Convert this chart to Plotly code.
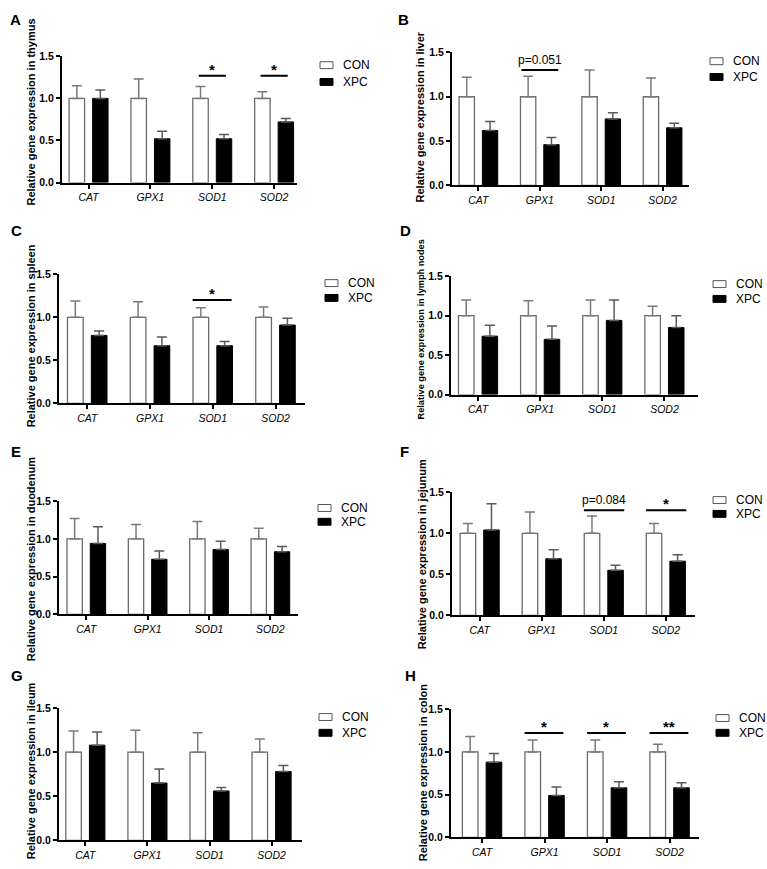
import plotly.graph_objects as go

W, H = 767, 869

# ---------------- data ----------------
genes = ["CAT", "GPX1", "SOD1", "SOD2"]
gene_labels = ["<i>CAT</i>", "<i>GPX1</i>", "<i>SOD1</i>", "<i>SOD2</i>"]
groups = ["CON", "XPC"]
tissues = ["thymus", "liver", "spleen", "lymph nodes", "duodenum", "jejunum", "ileum", "colon"]
panel_letters = ["A", "B", "C", "D", "E", "F", "G", "H"]
y_ticks = [0.0, 0.5, 1.0, 1.5]
y_ticklabels = ["0.0", "0.5", "1.0", "1.5"]

con_mean = [1.00, 1.00, 1.00, 1.00]

thymus_con_sem = [0.15, 0.23, 0.14, 0.08]
thymus_xpc_mean = [1.00, 0.52, 0.52, 0.72]
thymus_xpc_sem = [0.10, 0.09, 0.05, 0.04]
thymus_sig = [("SOD1", "*", 1.27), ("SOD2", "*", 1.27)]

liver_con_sem = [0.22, 0.23, 0.30, 0.21]
liver_xpc_mean = [0.62, 0.46, 0.75, 0.65]
liver_xpc_sem = [0.10, 0.08, 0.07, 0.05]
liver_sig = [("GPX1", "p=0.051", 1.30)]

spleen_con_sem = [0.19, 0.18, 0.11, 0.12]
spleen_xpc_mean = [0.79, 0.67, 0.67, 0.91]
spleen_xpc_sem = [0.05, 0.10, 0.05, 0.08]
spleen_sig = [("SOD1", "*", 1.20)]

lymph_con_sem = [0.20, 0.19, 0.20, 0.12]
lymph_xpc_mean = [0.74, 0.70, 0.94, 0.85]
lymph_xpc_sem = [0.14, 0.17, 0.26, 0.15]
lymph_sig = []

duodenum_con_sem = [0.27, 0.19, 0.23, 0.14]
duodenum_xpc_mean = [0.94, 0.73, 0.86, 0.83]
duodenum_xpc_sem = [0.22, 0.11, 0.11, 0.07]
duodenum_sig = []

jejunum_con_sem = [0.12, 0.26, 0.21, 0.12]
jejunum_xpc_mean = [1.04, 0.69, 0.55, 0.66]
jejunum_xpc_sem = [0.32, 0.11, 0.06, 0.08]
jejunum_sig = [("SOD1", "p=0.084", 1.28), ("SOD2", "*", 1.28)]

ileum_con_sem = [0.24, 0.25, 0.22, 0.15]
ileum_xpc_mean = [1.08, 0.65, 0.56, 0.78]
ileum_xpc_sem = [0.15, 0.16, 0.04, 0.07]
ileum_sig = []

colon_con_sem = [0.18, 0.14, 0.14, 0.09]
colon_xpc_mean = [0.88, 0.49, 0.58, 0.58]
colon_xpc_sem = [0.10, 0.10, 0.07, 0.06]
colon_sig = [("GPX1", "*", 1.22), ("SOD1", "*", 1.22), ("SOD2", "**", 1.22)]

con_sems = [thymus_con_sem, liver_con_sem, spleen_con_sem, lymph_con_sem,
            duodenum_con_sem, jejunum_con_sem, ileum_con_sem, colon_con_sem]
xpc_means = [thymus_xpc_mean, liver_xpc_mean, spleen_xpc_mean, lymph_xpc_mean,
             duodenum_xpc_mean, jejunum_xpc_mean, ileum_xpc_mean, colon_xpc_mean]
xpc_sems = [thymus_xpc_sem, liver_xpc_sem, spleen_xpc_sem, lymph_xpc_sem,
            duodenum_xpc_sem, jejunum_xpc_sem, ileum_xpc_sem, colon_xpc_sem]
sigs = [thymus_sig, liver_sig, spleen_sig, lymph_sig,
        duodenum_sig, jejunum_sig, ileum_sig, colon_sig]

# ---------------- layout geometry (pixels) ----------------
# (x_left, x_right, y_top, y_bottom)
boxes = [
    (62, 297, 51, 179),
    (452, 689, 47, 182),
    (59, 305, 272, 403),
    (451, 698, 274, 394),
    (59, 298, 502, 617),
    (452, 695, 493, 618),
    (59, 302, 712, 846),
    (451, 699, 713, 843),
]
xranges = [(-0.43, 3.37), (-0.43, 3.43), (-0.45, 3.47), (-0.435, 3.54),
           (-0.445, 3.45), (-0.446, 3.47), (-0.425, 3.49), (-0.497, 3.47)]
# y-axis title: (x center, y center, font size)
ytitles = [(31, 108, 11), (420, 113, 11), (31, 335, 11), (421, 328, 9.2),
           (31, 561, 11), (422, 556, 11), (31, 776, 11), (423, 777, 11)]
letters_pos = [(8, 14), (396, 14), (9, 228), (398, 228),
               (9, 452), (398, 452), (9, 679), (403, 679)]
# legend: (rect left, CON y, XPC y)
legend_pos = [(320, 60, 77), (710, 56, 72), (325, 281, 296), (713, 282, 297),
              (318, 509, 523), (713, 501, 515), (319, 721, 737), (716, 722, 737)]
sig_span = [(-0.22, 0.22), (-0.30, 0.30), (-0.32, 0.30), (0, 0),
            (0, 0), (-0.32, 0.33), (0, 0), (-0.32, 0.30)]


def px(xp):
    return xp / W


def py(yp):
    return 1 - yp / H


FONT = "Liberation Sans, Arial, sans-serif"
fig = go.Figure()
layout = dict(
    width=W, height=H, margin=dict(l=0, r=0, t=0, b=0),
    paper_bgcolor="white", plot_bgcolor="white",
    showlegend=False, barmode="overlay",
    font=dict(family=FONT, color="black"),
)
shapes = []
annotations = []

for i in range(8):
    xa = "x" if i == 0 else f"x{i+1}"
    ya = "y" if i == 0 else f"y{i+1}"
    xl, xr, yt, yb = boxes[i]
    fig.add_trace(go.Bar(
        x=genes, y=con_mean, name=groups[0], width=0.25, offset=-0.315,
        marker=dict(color="white", line=dict(color="#6a6a6a", width=1.3)),
        error_y=dict(type="data", array=con_sems[i], arrayminus=[0, 0, 0, 0],
                     symmetric=False, color="#7a7a7a", thickness=1.5, width=5),
        xaxis=xa, yaxis=ya, showlegend=False))
    fig.add_trace(go.Bar(
        x=genes, y=xpc_means[i], name=groups[1], width=0.25, offset=0.065,
        marker=dict(color="black", line=dict(color="black", width=1.0)),
        error_y=dict(type="data", array=xpc_sems[i], arrayminus=[0, 0, 0, 0],
                     symmetric=False, color="#5a5a5a", thickness=1.5, width=5),
        xaxis=xa, yaxis=ya, showlegend=False))

    kx = "xaxis" if i == 0 else f"xaxis{i+1}"
    ky = "yaxis" if i == 0 else f"yaxis{i+1}"
    layout[kx] = dict(
        domain=[px(xl), px(xr)], anchor=ya, range=list(xranges[i]),
        type="category", tickmode="array", tickvals=genes, ticktext=gene_labels,
        showline=True, linecolor="black", linewidth=2, ticks="outside",
        ticklen=4, tickwidth=2, tickcolor="black", showgrid=False, zeroline=False,
        tickfont=dict(family=FONT, size=10.5, color="black"), fixedrange=True)
    layout[ky] = dict(
        domain=[py(yb), py(yt)], anchor=xa, range=[0, 1.5],
        tickmode="array", tickvals=y_ticks, ticktext=y_ticklabels,
        showline=True, linecolor="black", linewidth=2, ticks="outside",
        ticklen=4, tickwidth=2, tickcolor="black", showgrid=False, zeroline=False,
        tickfont=dict(family=FONT, size=10.5, color="black", weight="bold"),
        fixedrange=True)

    # y axis title
    tx, tyc, tfs = ytitles[i]
    annotations.append(dict(
        x=px(tx), y=py(tyc), xref="paper", yref="paper", showarrow=False,
        text=f"Relative gene expression in {tissues[i]}", textangle=-90,
        font=dict(family=FONT, size=tfs, color="black", weight="bold"),
        xanchor="center", yanchor="middle"))
    # panel letter
    lx, ly = letters_pos[i]
    annotations.append(dict(
        x=px(lx), y=py(ly), xref="paper", yref="paper", showarrow=False,
        text=panel_letters[i], xanchor="left", yanchor="middle",
        font=dict(family=FONT, size=15, color="black", weight="bold")))
    # legend
    rx, cy, xy = legend_pos[i]
    for yy, fill, lab in ((cy, "white", groups[0]), (xy, "black", groups[1])):
        shapes.append(dict(
            type="rect", xref="paper", yref="paper",
            x0=px(rx), x1=px(rx + 13), y0=py(yy + 3.5), y1=py(yy - 3.5),
            fillcolor=fill, line=dict(color="#555" if fill == "white" else "black", width=1)))
        annotations.append(dict(
            x=px(rx + 21), y=py(yy), xref="paper", yref="paper", showarrow=False,
            text=lab, xanchor="left", yanchor="middle",
            font=dict(family=FONT, size=12, color="black")))
    # significance
    s0, s1 = sig_span[i]
    for gene, lab, yv in sigs[i]:
        gi = genes.index(gene)
        shapes.append(dict(
            type="line", xref=xa, yref=ya, x0=gi + s0, x1=gi + s1, y0=yv, y1=yv,
            line=dict(color="black", width=2)))
        if lab.startswith("p="):
            annotations.append(dict(
                x=gi + (s0 + s1) / 2, y=yv, xref=xa, yref=ya, showarrow=False,
                text=lab, xanchor="center", yanchor="bottom", yshift=1,
                font=dict(family=FONT, size=12, color="black")))
        else:
            annotations.append(dict(
                x=gi + (s0 + s1) / 2, y=yv, xref=xa, yref=ya, showarrow=False,
                text=lab, xanchor="center", yanchor="bottom", yshift=-4,
                font=dict(family=FONT, size=15, color="black", weight="bold")))

layout["shapes"] = shapes
layout["annotations"] = annotations
fig.update_layout(**layout)
fig.write_html(
    "out.html",
    config={"displayModeBar": False},
    post_script="document.body.style.margin='0';document.body.style.padding='0';"
                "document.documentElement.style.overflow='hidden';"
                "document.body.style.overflow='hidden';",
)
